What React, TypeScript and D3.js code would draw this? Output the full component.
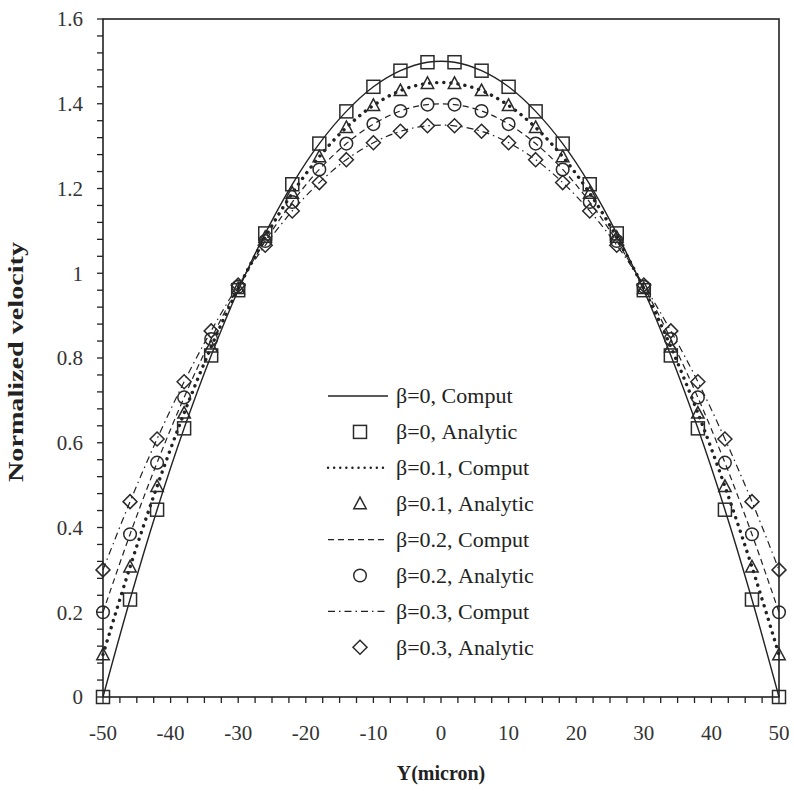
import React from "react";
import * as d3 from "d3";

const yPos = [-50, -46, -42, -38, -34, -30, -26, -22, -18, -14, -10, -6, -2, 2, 6, 10, 14, 18, 22, 26, 30, 34, 38, 42, 46, 50];
const half0 = [0, 0.230, 0.442, 0.634, 0.806, 0.960, 1.094, 1.210, 1.306, 1.382, 1.440, 1.478, 1.498];
const half1 = [0.1, 0.307, 0.497, 0.670, 0.826, 0.964, 1.085, 1.189, 1.275, 1.344, 1.396, 1.431, 1.448];
const half2 = [0.2, 0.384, 0.553, 0.707, 0.845, 0.968, 1.076, 1.168, 1.245, 1.306, 1.352, 1.383, 1.398];
const half3 = [0.3, 0.461, 0.609, 0.744, 0.864, 0.972, 1.066, 1.147, 1.214, 1.268, 1.308, 1.335, 1.348];
const beta0 = [...half0, ...half0.slice().reverse()];
const beta1 = [...half1, ...half1.slice().reverse()];
const beta2 = [...half2, ...half2.slice().reverse()];
const beta3 = [...half3, ...half3.slice().reverse()];

const seriesNames = ["β=0", "β=0.1", "β=0.2", "β=0.3"];
const seriesValues = [beta0, beta1, beta2, beta3];
const markerTypes = ["square", "triangle", "circle", "diamond"];
const dashes = ["", "0.1 7", "6 4", "7 4 1.5 4"];
const lineWidths = [1.4, 3.4, 1.2, 1.2];

const xTicks = [-50, -40, -30, -20, -10, 0, 10, 20, 30, 40, 50];
const yTicks = [0, 0.2, 0.4, 0.6, 0.8, 1, 1.2, 1.4, 1.6];

const W = 794, H = 791;
const left = 103, right = 779, top = 19, bottom = 697;
const serif = "'Liberation Serif', 'Times New Roman', serif";
const ink = "#222";

function Marker({ type, x, y }: { type: string; x: number; y: number }) {
  const s = 6.5;
  const st = { fill: "none", stroke: "#2a2a2a", strokeWidth: 1.5 };
  if (type === "square") return <rect x={x - s} y={y - s} width={2 * s} height={2 * s} {...st} />;
  if (type === "circle") return <circle cx={x} cy={y} r={6.3} {...st} />;
  if (type === "triangle")
    return <path d={`M${x},${y - 6.5}L${x + 6.2},${y + 5}L${x - 6.2},${y + 5}Z`} {...st} />;
  return <path d={`M${x},${y - 7}L${x + 7},${y}L${x},${y + 7}L${x - 7},${y}Z`} {...st} />;
}

export default function App() {
  const x = d3.scaleLinear().domain([-50, 50]).range([left, right]);
  const y = d3.scaleLinear().domain([0, 1.6]).range([bottom, top]);
  const line = d3
    .line<number>()
    .x((_, i) => x(yPos[i]))
    .y((d) => y(d))
    .curve(d3.curveCatmullRom);

  const xMinor = d3.range(-50, 50.001, 2.5);
  const yMinor = d3.range(0, 1.6001, 0.04);

  const legendX1 = 328, legendX2 = 388, legendTextX = 396;
  const legendY0 = 396, legendStep = 35.9;

  return (
    <svg width={W} height={H} style={{ position: "absolute", left: 0, top: 0, background: "#fff" }}>
      <rect x={0} y={0} width={W} height={H} fill="#fff" />
      {xMinor.map((t, i) => (
        <line key={"xt" + i} x1={x(t)} x2={x(t)} y1={bottom} y2={bottom + 6} stroke={ink} strokeWidth={1.3} />
      ))}
      {yMinor.map((t, i) => (
        <line key={"yt" + i} x1={left - 6} x2={left} y1={y(t)} y2={y(t)} stroke={ink} strokeWidth={1.3} />
      ))}
      {xTicks.map((t) => (
        <text key={"xl" + t} x={x(t)} y={740} textAnchor="middle" fontFamily={serif} fontSize={21} fill="#333">
          {t}
        </text>
      ))}
      {yTicks.map((t) => (
        <text key={"yl" + t} x={83} y={y(t)} dy="0.35em" textAnchor="end" fontFamily={serif} fontSize={21} fill="#333">
          {t}
        </text>
      ))}
      {seriesValues.map((vals, k) => (
        <path
          key={"l" + k}
          d={line(vals) || ""}
          fill="none"
          stroke={ink}
          strokeWidth={lineWidths[k]}
          strokeDasharray={dashes[k] || undefined}
          strokeLinecap={k === 1 ? "round" : "butt"}
        />
      ))}
      {seriesValues.map((vals, k) =>
        vals.map((v, i) => <Marker key={`m${k}-${i}`} type={markerTypes[k]} x={x(yPos[i])} y={y(v)} />)
      )}
      <rect x={left} y={top} width={right - left} height={bottom - top} fill="none" stroke={ink} strokeWidth={1.6} />
      {seriesNames.map((name, k) => {
        const yl = legendY0 + legendStep * 2 * k;
        const ym = yl + legendStep;
        return (
          <g key={"lg" + k}>
            <line
              x1={legendX1}
              x2={legendX2}
              y1={yl}
              y2={yl}
              stroke={ink}
              strokeWidth={k === 1 ? 2.4 : lineWidths[k]}
              strokeDasharray={k === 1 ? "0.1 6" : dashes[k] || undefined}
              strokeLinecap={k === 1 ? "round" : "butt"}
            />
            <text x={legendTextX} y={yl} dy="0.33em" fontFamily={serif} fontSize={22} fill="#222">
              {name + ", Comput"}
            </text>
            <Marker type={markerTypes[k]} x={360} y={ym} />
            <text x={legendTextX} y={ym} dy="0.33em" fontFamily={serif} fontSize={22} fill="#222">
              {name + ", Analytic"}
            </text>
          </g>
        );
      })}
      <text x={441} y={780} textAnchor="middle" fontFamily={serif} fontSize={20} fontWeight="bold" fill="#222">
        Y(micron)
      </text>
      <text
        transform={`translate(23,362) rotate(-90)`}
        textAnchor="middle"
        fontFamily={serif}
        fontSize={21}
        fontWeight="bold"
        fill="#222"
        textLength={240}
        lengthAdjust="spacingAndGlyphs"
      >
        Normalized velocity
      </text>
    </svg>
  );
}
